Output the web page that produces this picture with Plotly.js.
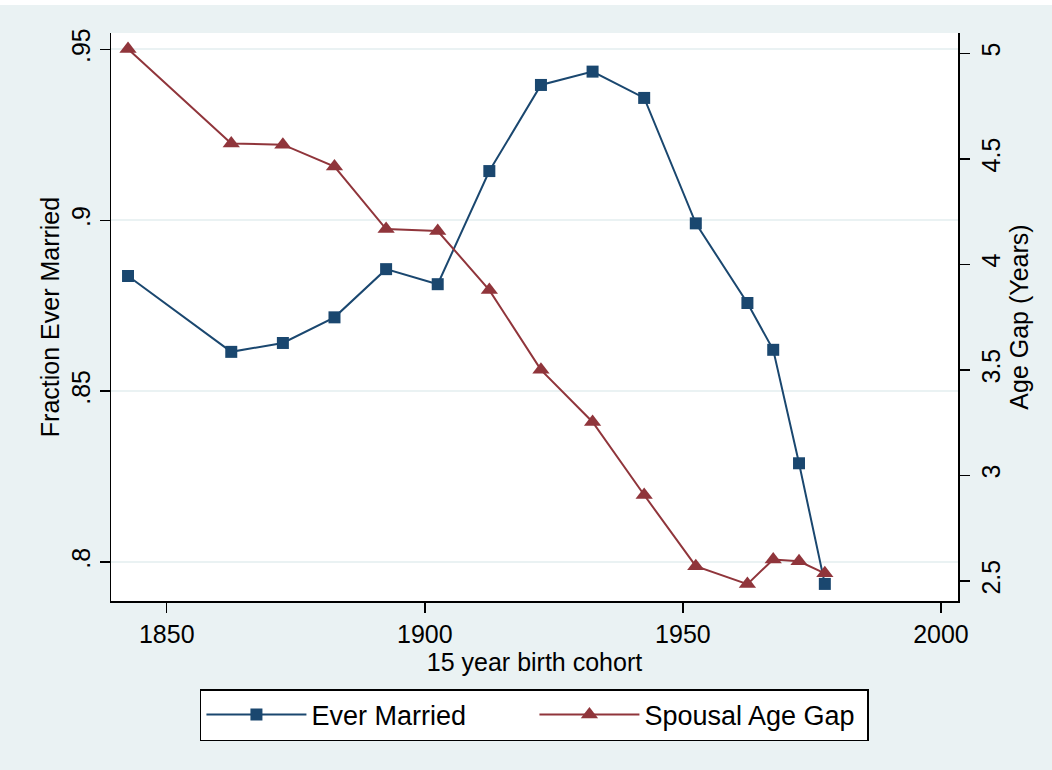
<!DOCTYPE html>
<html>
<head>
<meta charset="utf-8">
<script src="https://cdn.plot.ly/plotly-3.0.1.min.js"></script>
<style>html,body{margin:0;padding:0;background:#EAF2F3;}#chart{width:1052px;height:770px;}</style>
</head>
<body>
<div id="chart"></div>
<script>
// Cohort midpoints (15 year birth cohort)
const cohorts = [1842.5, 1862.5, 1872.5, 1882.5, 1892.5, 1902.5, 1912.5, 1922.5, 1932.5, 1942.5, 1952.5, 1962.5, 1967.5, 1972.5, 1977.5];
const everMarried = [0.8837, 0.8615, 0.8641, 0.8716, 0.8857, 0.8813, 0.9144, 0.9396, 0.9435, 0.9358, 0.8991, 0.8758, 0.8621, 0.8289, 0.7936];
const spousalAgeGap = [5.02, 4.573, 4.567, 4.463, 4.167, 4.158, 3.878, 3.50, 3.253, 2.907, 2.570, 2.485, 2.602, 2.593, 2.536];

const xTicks = [1850, 1900, 1950, 2000];
const xTickLabels = ['1850', '1900', '1950', '2000'];
const yTicks = [0.8, 0.85, 0.9, 0.95];
const yTickLabels = ['.8', '.85', '.9', '.95'];
const y2Ticks = [2.5, 3, 3.5, 4, 4.5, 5];
const y2TickLabels = ['2.5', '3', '3.5', '4', '4.5', '5'];

const NAVY = '#1A476F';
const MAROON = '#90353B';
const FONT = 'Liberation Sans, Arial, Helvetica, sans-serif';

const traces = [
  {
    x: cohorts, y: everMarried, name: 'Ever Married', type: 'scatter', mode: 'lines+markers',
    line: {color: NAVY, width: 2}, marker: {symbol: 'square', size: 12, color: NAVY},
    yaxis: 'y'
  },
  {
    x: cohorts, y: spousalAgeGap, name: 'Spousal Age Gap', type: 'scatter', mode: 'lines+markers',
    line: {color: MAROON, width: 2}, marker: {symbol: 'triangle-up', size: 15, color: MAROON},
    yaxis: 'y2'
  }
];

const axisCommon = {
  showline: true, linecolor: '#000', linewidth: 1.5,
  ticks: 'outside', ticklen: 10, tickwidth: 1.5, tickcolor: '#000',
  tickfont: {family: FONT, size: 25, color: '#000'},
  zeroline: false
};

const layout = {
  width: 1052, height: 770,
  paper_bgcolor: '#EAF2F3', plot_bgcolor: '#FFFFFF',
  margin: {l: 111, r: 94, t: 33, b: 169},
  font: {family: FONT, size: 25, color: '#000'},
  showlegend: true,
  xaxis: Object.assign({}, axisCommon, {
    range: [1839.2, 2003.3], tickvals: xTicks, ticktext: xTickLabels,
    showgrid: false, mirror: false,
    title: {text: '15 year birth cohort', font: {family: FONT, size: 25, color: '#000'}, standoff: 3}
  }),
  yaxis: Object.assign({}, axisCommon, {
    range: [0.7886, 0.9548], tickvals: yTicks, ticktext: yTickLabels, tickangle: -90,
    showgrid: true, gridcolor: '#EAF2F3', gridwidth: 2,
    title: {text: 'Fraction Ever Married', font: {family: FONT, size: 25, color: '#000'}, standoff: 0}
  }),
  yaxis2: Object.assign({}, axisCommon, {
    range: [2.405, 5.096], tickvals: y2Ticks, ticktext: y2TickLabels, tickangle: -90,
    overlaying: 'y', side: 'right', showgrid: false,
    title: {text: 'Age Gap (Years)', font: {family: FONT, size: 25, color: '#000'}, standoff: 0}
  }),
  legend: {
    orientation: 'h', x: 0.105, y: -0.155, xanchor: 'left', yanchor: 'top',
    bgcolor: '#FFFFFF', bordercolor: '#000', borderwidth: 1.5,
    font: {family: FONT, size: 27, color: '#000'},
    itemwidth: 100, entrywidth: 218, entrywidthmode: 'pixels',
    itemclick: false, itemdoubleclick: false
  },
  shapes: [
    {type: 'rect', xref: 'paper', yref: 'paper', x0: -0.2, x1: 1.2, y0: 1.0493, y1: 1.07,
     fillcolor: '#FFFFFF', line: {width: 0}, layer: 'below'}
  ]
};

Plotly.newPlot('chart', traces, layout, {displayModeBar: false, staticPlot: true});
</script>
</body>
</html>
